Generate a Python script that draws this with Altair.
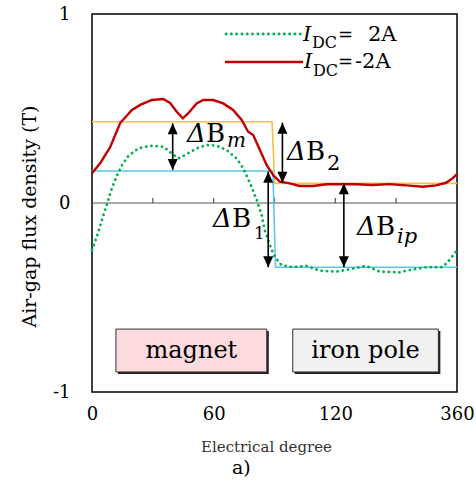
import altair as alt
import pandas as pd

FONT = "DejaVu Serif"

# ---- data ----
red_x = [0, 4.1, 9.0, 13.9, 19.7, 23.8, 29.5, 35.1, 38.5, 41.8, 44.8, 47.5, 51.6, 54.9,
         59.8, 64.7, 69.6, 73.8, 77.0, 79.5, 82.8, 86.1, 89.3, 92.6, 97.5, 102.4, 109.0,
         115.6, 122.1, 130.3, 138.5, 146.7, 154.9, 163.1, 169.7, 174.6, 177.8, 180]
red_y = [0.157, 0.212, 0.296, 0.423, 0.492, 0.519, 0.545, 0.550, 0.529, 0.483, 0.448, 0.475,
         0.527, 0.545, 0.545, 0.527, 0.492, 0.439, 0.377, 0.360, 0.280, 0.201, 0.148, 0.113,
         0.104, 0.090, 0.090, 0.099, 0.100, 0.099, 0.095, 0.100, 0.093, 0.086, 0.093, 0.107,
         0.130, 0.153]

green_x = [0, 2.5, 4.9, 7.4, 9.8, 12.3, 14.8, 18.0, 22.9, 28.7, 35.2, 39.3, 42.6, 45.9, 51.6,
           56.6, 61.5, 66.4, 71.3, 74.6, 77.8, 81.1, 83.6, 85.2, 87.7, 90.1, 93.4, 99.1, 105.7,
           112.3, 120.5, 127.0, 135.2, 141.8, 151.6, 158.2, 164.8, 172.9, 176.2, 180]
green_y = [-0.249, -0.175, -0.090, -0.005, 0.078, 0.145, 0.200, 0.250, 0.289, 0.303, 0.298,
           0.263, 0.236, 0.254, 0.289, 0.307, 0.303, 0.280, 0.236, 0.184, 0.108, 0.020, -0.060,
           -0.143, -0.222, -0.284, -0.328, -0.340, -0.333, -0.358, -0.363, -0.351, -0.333,
           -0.363, -0.367, -0.351, -0.340, -0.340, -0.302, -0.250]

yellow_x = [0, 88.8, 90.1, 180]
yellow_y = [0.43, 0.43, 0.104, 0.104]
blue_x = [0, 89.2, 90.5, 180]
blue_y = [0.169, 0.169, -0.34, -0.34]

arrow_x = [39.8, 93.9, 86.9, 124.2]
arrow_top = [0.422, 0.425, 0.166, 0.104]
arrow_bottom = [0.175, 0.107, -0.34, -0.34]

tick_x = [30, 60, 90, 120, 150]
tick_len = 0.027

box_labels = ["magnet", "iron pole"]
box_x0 = [11.8, 99.0]
box_x1 = [86.2, 170.8]
box_y0 = [-0.667, -0.667]
box_y1 = [-0.894, -0.894]
box_fill = ["#fddadd", "#f1f1f1"]

x_label_values = [0, 60, 120, 180]
y_label_values = [-1, 0, 1]

# ---- tables ----
red_df = pd.DataFrame({"x": red_x, "y": red_y})
green_df = pd.DataFrame({"x": green_x, "y": green_y})
yellow_df = pd.DataFrame({"x": yellow_x, "y": yellow_y})
blue_df = pd.DataFrame({"x": blue_x, "y": blue_y})
arrow_df = pd.DataFrame({"x": arrow_x, "y": arrow_top, "y2": arrow_bottom})
tick_df = pd.DataFrame({"x": tick_x, "y": [0] * len(tick_x), "y2": [tick_len] * len(tick_x)})
zero_df = pd.DataFrame({"y": [0]})
box_df = pd.DataFrame({"label": box_labels, "x": box_x0, "x2": box_x1, "y": box_y0,
                       "y2": box_y1, "fill": box_fill})
box_df["xc"] = (box_df["x"] + box_df["x2"]) / 2
box_df["yc"] = (box_df["y"] + box_df["y2"]) / 2
dummy = pd.DataFrame({"a": [0]})

NB = "\u00a0\u00a0"
X = alt.X("x:Q", scale=alt.Scale(domain=[0, 180], nice=False, zero=False),
          axis=alt.Axis(values=x_label_values,
                        labelExpr=("datum.value == 0 ? '0' : (datum.value == 180 ? '360"
                                   + NB + "' : '' + datum.value + '" + NB + "')"),
                        labelFlush=False, labelOverlap=False, labelFontSize=18,
                        labelPadding=13, labelColor="black",
                        title="Electrical degree", titleFontSize=15,
                        titleFontWeight="normal", titleColor="#333333",
                        titleX=174, titleY=59, titleBaseline="alphabetic",
                        titleAlign="center"))
Y = alt.Y("y:Q", scale=alt.Scale(domain=[-1, 1], nice=False, zero=False),
          axis=alt.Axis(values=y_label_values, labelExpr="'' + datum.value",
                        labelFlush=False, labelOverlap=False, labelFontSize=18,
                        labelPadding=22, labelColor="black", labelBaseline="middle",
                        title="Air-gap flux density (T)", titleFontSize=19,
                        titleFontWeight="normal", titleColor="black", titleAngle=270,
                        titleX=-63, titleY=202, titleAlign="center",
                        titleBaseline="middle"))

layers = []

# boxes (shadow + box + text)
layers.append(alt.Chart(box_df).mark_rect(color="#222222", xOffset=2, x2Offset=2,
                                          yOffset=2, y2Offset=2)
              .encode(x=X, x2="x2:Q", y=Y, y2="y2:Q"))
layers.append(alt.Chart(box_df).mark_rect(stroke="#333333", strokeWidth=1)
              .encode(x=X, x2="x2:Q", y=Y, y2="y2:Q",
                      fill=alt.Fill("fill:N", scale=None)))
layers.append(alt.Chart(box_df).mark_text(font=FONT, fontSize=24, color="black",
                                          baseline="middle", align="center")
              .encode(x=alt.X("xc:Q"), y=alt.Y("yc:Q"), text="label:N"))

# zero line and ticks
layers.append(alt.Chart(zero_df).mark_rule(color="#555555", strokeWidth=1.2)
              .encode(y=Y))
layers.append(alt.Chart(tick_df).mark_rule(color="#555555", strokeWidth=1.2)
              .encode(x=X, y=Y, y2="y2:Q"))

# reference step lines
layers.append(alt.Chart(yellow_df).mark_line(color="#f2c14e", strokeWidth=1.6)
              .encode(x=X, y=Y, order="x:Q"))
layers.append(alt.Chart(blue_df).mark_line(color="#5ec4ea", strokeWidth=1.6)
              .encode(x=X, y=Y, order="x:Q"))

# curves
layers.append(alt.Chart(green_df).mark_line(color="#00b050", strokeWidth=2.8,
                                            strokeDash=[0.1, 5.2], strokeCap="round")
              .encode(x=X, y=Y, order="x:Q"))
layers.append(alt.Chart(red_df).mark_line(color="#c00000", strokeWidth=2.4)
              .encode(x=X, y=Y, order="x:Q"))

# arrows
UP = "M0,0L-0.5,1.1L0.5,1.1Z"
DOWN = "M0,0L-0.5,-1.1L0.5,-1.1Z"
layers.append(alt.Chart(arrow_df).mark_rule(color="black", strokeWidth=1.6)
              .encode(x=X, y=Y, y2="y2:Q"))
layers.append(alt.Chart(arrow_df).mark_point(shape=UP, size=400, filled=True,
                                             color="black", opacity=1, strokeWidth=0)
              .encode(x=X, y=Y))
layers.append(alt.Chart(arrow_df).mark_point(shape=DOWN, size=400, filled=True,
                                             color="black", opacity=1, strokeWidth=0)
              .encode(x=X, y=alt.Y("y2:Q")))


def txt(s, px, py, size, italic=False, color="black"):
    return (alt.Chart(dummy)
            .mark_text(text=s, font=FONT, fontSize=size, align="left",
                       baseline="alphabetic", color=color,
                       fontStyle="italic" if italic else "normal")
            .encode(x=alt.value(px - 92), y=alt.value(py - 14)))


def delta_b(px, py, sub, sub_dx, sub_dy, sub_size, sub_italic):
    return [txt("Δ", px, py, 26, italic=True), txt("B", px + 19, py, 26),
            txt(sub, px + sub_dx, py + sub_dy, sub_size, italic=sub_italic)]


layers += delta_b(187, 142, "m", 40, 5, 20, True)
layers += delta_b(287, 160, "2", 40, 10, 21, False)
layers += delta_b(213, 227, "1", 41, 12, 17, False)
layers += delta_b(357, 235, "ip", 40, 8, 21, True)

# legend
layers.append(alt.Chart(dummy).mark_rule(color="#00b050", strokeWidth=2.8,
                                         strokeDash=[0.1, 5.2], strokeCap="round")
              .encode(x=alt.value(226 - 92), x2=alt.value(302 - 92), y=alt.value(34 - 14)))
layers.append(alt.Chart(dummy).mark_rule(color="#c00000", strokeWidth=2.4)
              .encode(x=alt.value(225 - 92), x2=alt.value(303 - 92), y=alt.value(62 - 14)))
layers += [txt("I", 303, 41, 21, italic=True), txt("DC", 312, 48, 16),
           txt("=", 338, 41, 18), txt("2A", 368, 41, 21)]
layers += [txt("I", 304, 68, 21, italic=True), txt("DC", 313, 76, 16),
           txt("=", 338, 68, 18), txt("-2A", 355, 68, 21)]

# caption
layers.append(txt("a)", 232, 474, 19))

chart = (alt.layer(*layers)
         .properties(width=365, height=378,
                     autosize=alt.AutoSizeParams(type="none"),
                     padding={"left": 92, "top": 14, "right": 19, "bottom": 94},
                     background="white")
         .configure_view(stroke="black", strokeWidth=1.5)
         .configure_axis(grid=False, domain=False, ticks=False, tickSize=0,
                         labelFont=FONT, titleFont=FONT))

chart.save("out.html", embed_options={"renderer": "svg", "actions": False})
